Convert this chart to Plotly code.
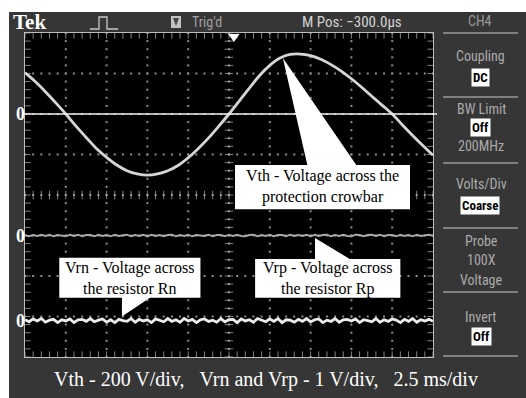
import numpy as np
import plotly.graph_objects as go

# Vth: voltage across the protection crowbar (V), 41 samples over 25 ms
vth_time_ms = [i * 0.625 for i in range(41)]
vth_volts = [204, 160, 110, 56, 0, -60, -116, -170, -214, -252, -280, -296, -302,
             -296, -280, -254, -216, -170, -118, -60, 0, 64, 128, 190, 240, 276,
             294, 296, 288, 270, 244, 212, 174, 132, 88, 44, 0, -54, -106, -156, -204]

# Vrn / Vrp: voltage across resistors (V), noisy flat traces
vrn_volts = [0.02, -0.03, 0.04, -0.01, 0.05, -0.04, 0.01, 0.03, -0.05, 0.02, -0.01,
             0.04, -0.05, 0.02, 0.03, -0.02, 0.05, -0.03, 0.01, 0.04, -0.04, 0.02,
             -0.05, 0.03, 0.00, -0.02, 0.05, -0.04, 0.03, -0.01, 0.02, -0.05, 0.04,
             0.01, -0.03, 0.05, -0.02, 0.02, -0.04, 0.05, -0.01, 0.03, -0.05, 0.02,
             0.04, -0.02, 0.01, -0.04, 0.05, -0.03, 0.02, 0.03, -0.05, 0.04, -0.01,
             0.02, -0.04, 0.05, 0.00, -0.03, 0.04, -0.02, 0.05, -0.05, 0.02, 0.01,
             -0.04, 0.03, -0.02, 0.05, -0.03, 0.02, 0.04, -0.05, 0.01, -0.02, 0.05,
             -0.04, 0.02, 0.03, -0.01, 0.04, -0.05, 0.02, 0.00, -0.03, 0.05, -0.04,
             0.02, -0.02, 0.04, 0.01, -0.05, 0.03, -0.02, 0.05, -0.04, 0.02, -0.01,
             0.03, -0.02]
vrp_volts = [0.01, -0.02, 0.01, -0.01, 0.02, -0.01, 0.02, -0.02, 0.01, 0.00, -0.02,
             0.02, -0.01, 0.02, -0.02, 0.01, 0.01, -0.02, 0.02, -0.01, 0.01, -0.02,
             0.02, -0.01, 0.01, 0.02, -0.02, 0.01, -0.01, 0.02, -0.02, 0.02, -0.01,
             0.01, -0.02, 0.01, 0.02, -0.02, 0.01, -0.01, 0.02, -0.02, 0.01, 0.00,
             -0.01, 0.02, -0.02, 0.01, 0.01, -0.02, 0.02, -0.01, 0.02, -0.01, -0.02,
             0.01, 0.02, -0.02, 0.01, -0.01, 0.02, -0.02, 0.01, 0.01, -0.02, 0.02,
             -0.01, 0.01, -0.01, 0.02, -0.02, 0.02, -0.01, 0.01, 0.02, -0.02, 0.01,
             -0.01, 0.02, -0.01, -0.02, 0.02, 0.01, -0.02, 0.01, 0.02, -0.01, 0.02,
             -0.02, 0.01, 0.01, -0.02, 0.02, -0.01, 0.01, -0.02, 0.02, -0.01, 0.01,
             0.02, -0.01]

# scope settings
TIME_PER_DIV_MS = 2.5
H_DIVS, V_DIVS = 10, 8
VTH_V_PER_DIV = 200
VR_V_PER_DIV = 1
VTH_ZERO_DIV = 2.0
VRP_ZERO_DIV = -1.0
VRN_ZERO_DIV = -3.1
TRIG_POS_MS = 12.8

bottom_caption = "Vth - 200 V/div,\u00a0\u00a0\u00a0Vrn and Vrp - 1 V/div,\u00a0\u00a0\u00a02.5 ms/div"

# ---------------- geometry ----------------
W, H = 526, 398
L, R, T, B = 25, 433, 33, 357
BG = "#363636"
PANEL_TXT = "#ababab"
XMAX = H_DIVS * TIME_PER_DIV_MS
YH = V_DIVS / 2


def fx(px):
    return (px - L) / (R - L)


def fy(py):
    return (B - py) / (B - T)


fig = go.Figure()

# ---------------- graticule decorations ----------------
minor_x = np.arange(0, XMAX + 1e-9, TIME_PER_DIV_MS / 5)
minor_y = np.arange(-YH, YH + 1e-9, 0.2)
gx, gy = [], []
for k in range(1, H_DIVS):
    for yv in minor_y:
        gx.append(k * TIME_PER_DIV_MS); gy.append(yv)
for k in range(-3, 4):
    for xv in minor_x:
        gx.append(xv); gy.append(k)
fig.add_trace(go.Scatter(x=gx, y=gy, mode="markers", hoverinfo="skip",
                         marker=dict(symbol="square", size=2, color="#8c8c8c",
                                     line=dict(width=0)), showlegend=False))
# ticks on the frame and centre cross
tx = list(minor_x) * 3
ty = [-YH] * len(minor_x) + [YH] * len(minor_x) + [0] * len(minor_x)
fig.add_trace(go.Scatter(x=tx, y=ty, mode="markers", hoverinfo="skip",
                         marker=dict(symbol="line-ns", size=[8] * (2 * len(minor_x)) + [6] * len(minor_x),
                                     line=dict(width=1, color="#b8b8b8")),
                         showlegend=False))
sx = [0] * len(minor_y) + [XMAX] * len(minor_y) + [XMAX / 2] * len(minor_y)
sy = list(minor_y) * 3
fig.add_trace(go.Scatter(x=sx, y=sy, mode="markers", hoverinfo="skip",
                         marker=dict(symbol="line-ew", size=[8] * (2 * len(minor_y)) + [6] * len(minor_y),
                                     line=dict(width=1, color="#b8b8b8")),
                         showlegend=False))

# ---------------- signals ----------------
fig.add_trace(go.Scatter(x=vth_time_ms, y=vth_volts, yaxis="y2", mode="lines",
                         line=dict(color="#d6d6d6", width=2.8, shape="spline"),
                         showlegend=False, name="Vth"))
fig.add_trace(go.Scatter(x=np.linspace(0, XMAX, len(vrp_volts)), y=vrp_volts, yaxis="y3",
                         mode="lines", line=dict(color="#a9a9a9", width=2.0),
                         showlegend=False, name="Vrp"))
fig.add_trace(go.Scatter(x=np.linspace(0, XMAX, len(vrn_volts)), y=vrn_volts, yaxis="y4",
                         mode="lines", line=dict(color="#ececec", width=2.8),
                         showlegend=False, name="Vrn"))

shapes = []
# white border strips of the capture
shapes.append(dict(type="rect", xref="paper", yref="paper", x0=fx(0), x1=fx(W),
                   y0=fy(0), y1=fy(12), fillcolor="white", line=dict(width=0), layer="below"))
shapes.append(dict(type="rect", xref="paper", yref="paper", x0=fx(0), x1=fx(9),
                   y0=fy(0), y1=fy(H), fillcolor="white", line=dict(width=0), layer="below"))
# Vth reference line
shapes.append(dict(type="line", xref="paper", yref="y2", x0=0, x1=1.01, y0=0, y1=0,
                   line=dict(color="#f2f2f2", width=1.6)))
# trigger position marker
shapes.append(dict(type="path", xref="x", yref="paper",
                   path=f"M {TRIG_POS_MS-0.35},{fy(34)} L {TRIG_POS_MS+0.35},{fy(34)} L {TRIG_POS_MS},{fy(42)} Z",
                   fillcolor="white", line=dict(width=0)))
# right panel separators
for py in [33, 97, 163, 228, 292, 356]:
    shapes.append(dict(type="line", xref="paper", yref="paper", x0=fx(443), x1=fx(518),
                       y0=fy(py), y1=fy(py), line=dict(color="#9a9a9a", width=1.5)))
# pulse icon
pp = [(90, 29), (99, 29), (99, 17), (107, 17), (107, 29), (118, 29)]
shapes.append(dict(type="path", xref="paper", yref="paper",
                   path="M " + " L ".join(f"{fx(a)},{fy(b)}" for a, b in pp),
                   line=dict(color="#c8c8c8", width=1.3)))
# trigger icon
shapes.append(dict(type="rect", xref="paper", yref="paper", x0=fx(171), x1=fx(181),
                   y0=fy(28), y1=fy(16), fillcolor="#c4c4c4", line=dict(width=0)))
shapes.append(dict(type="path", xref="paper", yref="paper",
                   path=f"M {fx(173)},{fy(18)} L {fx(179)},{fy(18)} L {fx(176)},{fy(26)} Z",
                   fillcolor="#444", line=dict(width=0)))


def callout(x0, x1, y0, y1, b0, b1, ax, ay, top=True):
    if top:
        p = (f"M {x0},{y0} L {x0},{y1} L {b0},{y1} L {ax},{ay} L {b1},{y1} "
             f"L {x1},{y1} L {x1},{y0} Z")
    else:
        p = (f"M {x0},{y1} L {x1},{y1} L {x1},{y0} L {b1},{y0} L {ax},{ay} "
             f"L {b0},{y0} L {x0},{y0} Z")
    return dict(type="path", xref="x", yref="y", path=p, fillcolor="white",
                line=dict(width=0), layer="above")


shapes.append(callout(12.87, 23.59, -0.35, 0.74, 17.3, 20.3, 15.8, 3.38, top=True))
shapes.append(callout(2.1, 10.75, -2.54, -1.55, 5.94, 7.66, 5.94, -3.0, top=False))
shapes.append(callout(14.1, 23.0, -2.54, -1.58, 17.77, 19.9, 17.77, -1.06, top=True))

SERIF = "Liberation Serif, Times New Roman, serif"
NARROW = "Liberation Sans Narrow, Roboto Condensed, Roboto, sans-serif"
ann = []


def txt(px, py, s, size, color, family, xanchor="center", **kw):
    ann.append(dict(xref="paper", yref="paper", x=fx(px), y=fy(py), text=s,
                    showarrow=False, xanchor=xanchor, yanchor="middle",
                    font=dict(size=size, color=color, family=family), **kw))


# callout texts
for xc, yc, s in [(18.23, 0.2, "Vth - Voltage across the<br>protection crowbar"),
                  (6.43, -2.05, "Vrn - Voltage across<br>the resistor Rn"),
                  (18.55, -2.06, "Vrp - Voltage across<br>the resistor Rp")]:
    ann.append(dict(xref="x", yref="y", x=xc, y=yc, text=s, showarrow=False,
                    font=dict(size=16, color="black", family=SERIF)))

# zero markers
for yr in ["y2", "y3", "y4"]:
    ann.append(dict(xref="paper", yref=yr, x=fx(14), y=0, text="<b>0</b>", showarrow=False,
                    font=dict(size=18, color="white", family=SERIF)))

# top bar
txt(11, 22, "<b>Tek</b>", 21, "white", SERIF, xanchor="left")
txt(190, 22, "Trig'd", 14, "#a0a0a0", NARROW, xanchor="left")
txt(300, 22, "M Pos: \u2212300.0\u00b5s", 15, "#d4d4d4", NARROW, xanchor="left")
txt(480, 21, "CH4", 14, "#9a9a9a", NARROW)

# side panel
txt(480, 56, "Coupling", 14, PANEL_TXT, NARROW)
txt(480, 77, "<b>DC</b>", 13, "black", NARROW, bgcolor="white", borderpad=1)
txt(481, 109, "BW Limit", 14, PANEL_TXT, NARROW)
txt(480, 128, "<b>Off</b>", 13, "black", NARROW, bgcolor="white", borderpad=1)
txt(481, 146, "200MHz", 14, PANEL_TXT, NARROW)
txt(481, 184, "Volts/Div", 14, PANEL_TXT, NARROW)
txt(480, 205, "<b>Coarse</b>", 13, "black", NARROW, bgcolor="white", borderpad=1)
txt(481, 241, "Probe", 14, PANEL_TXT, NARROW)
txt(481, 260, "100X", 14, PANEL_TXT, NARROW)
txt(481, 280, "Voltage", 14, PANEL_TXT, NARROW)
txt(481, 317, "Invert", 14, PANEL_TXT, NARROW)
txt(481, 336, "<b>Off</b>", 13, "black", NARROW, bgcolor="white", borderpad=1)

# caption
txt(266, 379, bottom_caption, 20, "white", SERIF)

axis_common = dict(showgrid=False, zeroline=False, showticklabels=False, ticks="",
                   fixedrange=True)
fig.update_layout(
    width=W, height=H, autosize=False,
    margin=dict(l=L, r=W - R, t=T, b=H - B, pad=0),
    paper_bgcolor=BG, plot_bgcolor="black",
    xaxis=dict(range=[0, XMAX], showline=True, mirror=True, linecolor="#bdbdbd",
               linewidth=1, **axis_common),
    yaxis=dict(range=[-YH, YH], showline=True, mirror=True, linecolor="#bdbdbd",
               linewidth=1, **axis_common),
    yaxis2=dict(overlaying="y", visible=False,
                range=[(-YH - VTH_ZERO_DIV) * VTH_V_PER_DIV, (YH - VTH_ZERO_DIV) * VTH_V_PER_DIV]),
    yaxis3=dict(overlaying="y", visible=False,
                range=[(-YH - VRP_ZERO_DIV) * VR_V_PER_DIV, (YH - VRP_ZERO_DIV) * VR_V_PER_DIV]),
    yaxis4=dict(overlaying="y", visible=False,
                range=[(-YH - VRN_ZERO_DIV) * VR_V_PER_DIV, (YH - VRN_ZERO_DIV) * VR_V_PER_DIV]),
    shapes=shapes, annotations=ann, showlegend=False,
)

fig.write_html("out.html")
